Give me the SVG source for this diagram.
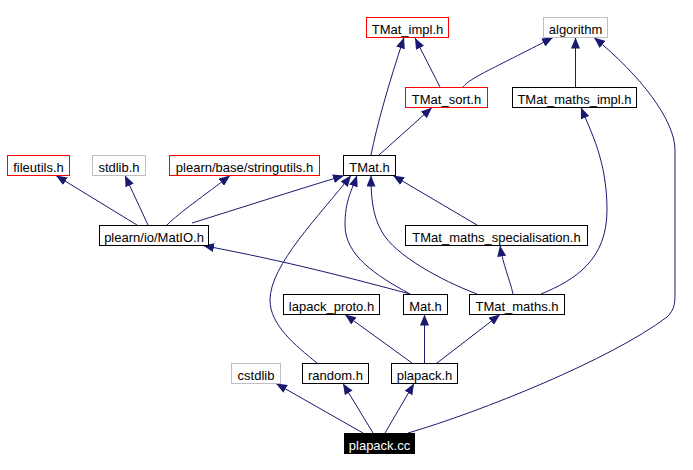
<svg xmlns="http://www.w3.org/2000/svg" width="693" height="470" viewBox="0 0 693 470">
<style>
rect.b{fill:#fff;stroke:#000000;stroke-width:1}
rect.r{fill:#fff;stroke:#ff0000;stroke-width:1}
rect.g{fill:#fff;stroke:#bfbfbf;stroke-width:1}
rect.m{fill:#000;stroke:#000;stroke-width:1}
text{font-family:"Liberation Sans",Arial,sans-serif;font-size:13px;fill:#000;text-anchor:middle}
text.w{fill:#fff}
.e path{fill:none;stroke:#191970;stroke-width:1;marker-end:url(#ah)}
</style>
<defs>
<marker id="ah" markerUnits="userSpaceOnUse" markerWidth="11" markerHeight="9" refX="11" refY="4.5" orient="auto">
<path d="M0,0 L11,4.5 L0,9 z" fill="#191970"/>
</marker>
</defs>
<rect width="693" height="470" fill="#fff"/>
<g id="edges" class="e">
<path d="M440,87 L415,38"/>
<path d="M463,87 C470,78 490,70 553,37.5"/>
<path d="M575.5,87 L575.5,37.5"/>
<path d="M408,433 C480,412 610,360 667,317 C675,309 675,303 675,290 L675,150 C675,120 640,75 594,37.5"/>
<path d="M371,155 Q380,110 404,37.5"/>
<path d="M379,155 L432,107.5"/>
<path d="M541,294 C575,280 607,260 607,210 C607,160 590,130 581,107.5"/>
<path d="M137,225 L56,175.5"/>
<path d="M148,225 L125,175.5"/>
<path d="M167,225 C180,212 205,195 230,175.5"/>
<path d="M192,223 C240,208 290,192 344,175.5"/>
<path d="M410,294 C350,278 290,262 203,245.5"/>
<path d="M410,294 C375,275 345,255 345,225 C345,200 352,190 357,175.5"/>
<path d="M477,294 C440,280 395,255 382,232 C372,215 371,195 371,175.5"/>
<path d="M477,225 L393,175.5"/>
<path d="M513,294 C510,280 503,265 500,245.5"/>
<path d="M317,363 C295,345 270,325 270,300 C270,265 320,215 351,175.5"/>
<path d="M412,363 L345,314.5"/>
<path d="M424.5,363 L424.5,314.5"/>
<path d="M437,363 L500,314.5"/>
<path d="M363,433 L276,383.5"/>
<path d="M373,433 L343,383.5"/>
<path d="M385,433 L414,383.5"/>
</g>
<g id="TMat_impl"><rect class="r" x="366.5" y="17.5" width="82" height="20"/><text x="407.5" y="33.5">TMat_impl.h</text></g>
<g id="algorithm"><rect class="g" x="543.5" y="17.5" width="64" height="20"/><text x="575.5" y="33.5">algorithm</text></g>
<g id="TMat_sort"><rect class="r" x="405.5" y="87.5" width="82" height="20"/><text x="446.5" y="103.5">TMat_sort.h</text></g>
<g id="TMat_maths_impl"><rect class="b" x="512.5" y="87.5" width="124" height="20"/><text x="574.5" y="103.5">TMat_maths_impl.h</text></g>
<g id="fileutils"><rect class="r" x="7.5" y="155.5" width="62" height="20"/><text x="38.5" y="171.5">fileutils.h</text></g>
<g id="stdlib"><rect class="g" x="92.5" y="155.5" width="53" height="20"/><text x="119" y="171.5">stdlib.h</text></g>
<g id="stringutils"><rect class="r" x="169.5" y="155.5" width="150" height="20"/><text x="244.5" y="171.5">plearn/base/stringutils.h</text></g>
<g id="TMat"><rect class="b" x="343.5" y="155.5" width="52" height="20"/><text x="369.5" y="171.5">TMat.h</text></g>
<g id="MatIO"><rect class="b" x="99.5" y="225.5" width="109" height="20"/><text x="154" y="241.5">plearn/io/MatIO.h</text></g>
<g id="TMat_maths_specialisation"><rect class="b" x="405.5" y="225.5" width="182" height="20"/><text x="496.5" y="241.5">TMat_maths_specialisation.h</text></g>
<g id="lapack_proto"><rect class="b" x="283.5" y="294.5" width="96" height="20"/><text x="331.5" y="310.5">lapack_proto.h</text></g>
<g id="Mat"><rect class="b" x="403.5" y="294.5" width="44" height="20"/><text x="425.5" y="310.5">Mat.h</text></g>
<g id="TMat_maths"><rect class="b" x="469.5" y="294.5" width="95" height="20"/><text x="517" y="310.5">TMat_maths.h</text></g>
<g id="cstdlib"><rect class="g" x="231.5" y="363.5" width="49" height="20"/><text x="256" y="379.5">cstdlib</text></g>
<g id="random"><rect class="b" x="302.5" y="363.5" width="66" height="20"/><text x="335.5" y="379.5">random.h</text></g>
<g id="plapack_h"><rect class="b" x="391.5" y="363.5" width="66" height="20"/><text x="424.5" y="379.5">plapack.h</text></g>
<g id="plapack_cc"><rect class="m" x="344.5" y="433.5" width="70" height="20"/><text class="w" x="379.5" y="449.5">plapack.cc</text></g>
</svg>
